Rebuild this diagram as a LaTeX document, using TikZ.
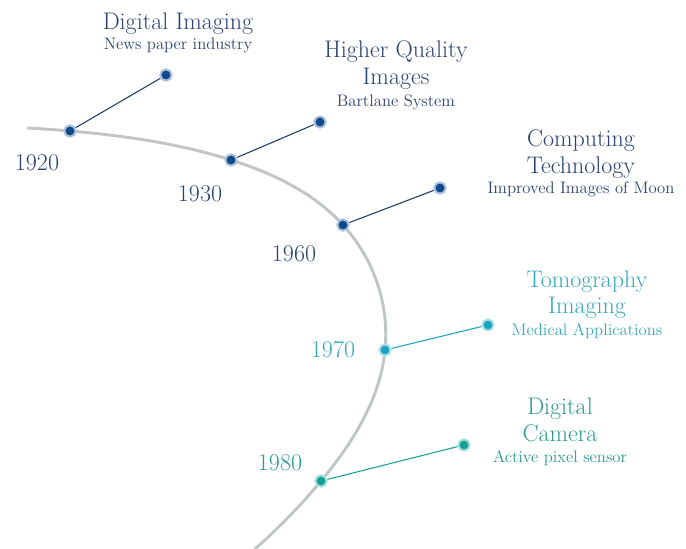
\documentclass[tikz,border=0pt]{standalone}
\usepackage{fontspec}
\usetikzlibrary{hobby}
\definecolor{navy}{HTML}{114A8C}
\definecolor{navyline}{HTML}{1F3C68}
\definecolor{navytext}{HTML}{2A4270}
\definecolor{cyandot}{HTML}{1CA4C4}
\definecolor{cyantext}{HTML}{36A8BA}
\definecolor{tealdot}{HTML}{14A096}
\definecolor{tealtext}{HTML}{2A9A90}
\definecolor{curvegray}{HTML}{C0C6C5}
\begin{document}
\begin{tikzpicture}[x=0.75pt,y=-0.75pt,
  title/.style={anchor=base,inner sep=0pt,font=\fontsize{18}{20}\selectfont},
  sub/.style={anchor=base,inner sep=0pt,font=\fontsize{12.5}{14}\selectfont},
  year/.style={anchor=base,inner sep=0pt,font=\fontsize{18}{20}\selectfont},
  dot/.style={circle,inner sep=0pt,minimum size=8.5pt,fill=#1,draw=#1!35,line width=1.5pt},
  branch/.style={draw=#1,line width=0.8pt}]
\useasboundingbox (0,0) rectangle (686,549);
\coordinate (c0) at (28,128);
\coordinate (c1) at (70,131);
\coordinate (c2) at (231,160);
\coordinate (c3) at (343,225);
\coordinate (c4) at (385,350);
\coordinate (c5) at (321,481);
\coordinate (c6) at (255,549);
\draw[curvegray,line width=2.2pt,line cap=round,use Hobby shortcut]
  (c0) .. (c1) .. (c2) .. (c3) .. (c4) .. (c5) .. (c6);
% main dots
\node[dot=navy] (d1920) at (c1) {};
\node[dot=navy] (d1930) at (c2) {};
\node[dot=navy] (d1960) at (c3) {};
\node[dot=cyandot] (d1970) at (c4) {};
\node[dot=tealdot] (d1980) at (c5) {};
% branch end dots
\node[dot=navy] (e1920) at (166,75) {};
\node[dot=navy] (e1930) at (320,122) {};
\node[dot=navy] (e1960) at (440,188) {};
\node[dot=cyandot] (e1970) at (488,325) {};
\node[dot=tealdot] (e1980) at (464,445) {};
% branches
\draw[branch=navyline] (d1920) -- (e1920);
\draw[branch=navyline] (d1930) -- (e1930);
\draw[branch=navyline] (d1960) -- (e1960);
\draw[branch=cyandot] (d1970) -- (e1970);
\draw[branch=tealdot] (d1980) -- (e1980);
% years
\node[year,text=navytext] (y1920) at (37,171) {1920};
\node[year,text=navytext] (y1930) at (200,202) {1930};
\node[year,text=navytext] (y1960) at (294,262) {1960};
\node[year,text=cyantext] (y1970) at (333,358) {1970};
\node[year,text=tealtext] (y1980) at (280,470) {1980};
% texts
\node[title,text=navytext] (t1a) at (178,30) {Digital Imaging};
\node[sub,text=navytext] (s1) at (178,50) {News paper industry};
\node[title,text=navytext] (t2a) at (396,58) {Higher Quality};
\node[title,text=navytext] (t2b) at (396,85) {Images};
\node[sub,text=navytext] (s2) at (396,107) {Bartlane System};
\node[title,text=navytext] (t3a) at (581,147) {Computing};
\node[title,text=navytext] (t3b) at (581,174) {Technology};
\node[sub,text=navytext] (s3) at (581,194) {Improved Images of Moon};
\node[title,text=cyantext] (t4a) at (587,287) {Tomography};
\node[title,text=cyantext] (t4b) at (587,314) {Imaging};
\node[sub,text=cyantext] (s4) at (587,335) {Medical Applications};
\node[title,text=tealtext] (t5a) at (560,414) {Digital};
\node[title,text=tealtext] (t5b) at (560,441) {Camera};
\node[sub,text=tealtext] (s5) at (560,462) {Active pixel sensor};
\end{tikzpicture}
\end{document}
